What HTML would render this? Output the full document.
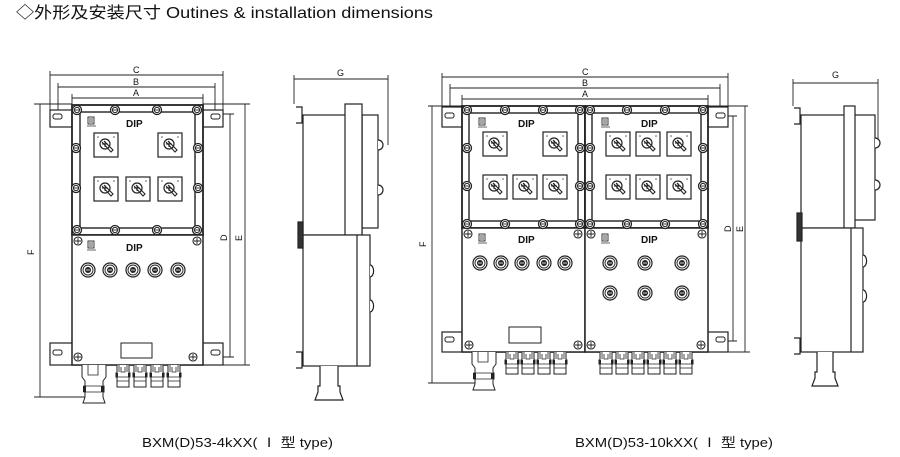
<!DOCTYPE html>
<html><head><meta charset="utf-8"><style>
html,body{margin:0;padding:0;background:#fff;}
svg{display:block;}
text{font-family:"Liberation Sans","Noto Sans CJK SC",sans-serif;fill:#111;}
</style></head><body>
<svg width="900" height="457" viewBox="0 0 900 457" xmlns="http://www.w3.org/2000/svg">
<defs>
 <g id="sw">
  <rect x="0" y="0" width="24" height="24" fill="#fff" stroke="#222" stroke-width="1.2"/>
  <circle cx="4" cy="4" r="0.8" fill="#555"/><circle cx="20" cy="4" r="0.8" fill="#555"/>
  <circle cx="11" cy="11" r="5" fill="none" stroke="#222" stroke-width="1.2"/>
  <path d="M8 9 L17 19 L19 17 L10 8" fill="none" stroke="#222" stroke-width="1.1"/>
  <path d="M8 11 h6 M11 8 v6" stroke="#222" stroke-width="0.9"/>
 </g>
 <g id="bolt">
  <circle cx="0" cy="0" r="4.5" fill="#fff" stroke="#222" stroke-width="1.3"/>
  <circle cx="0" cy="0" r="2.6" fill="none" stroke="#222" stroke-width="1"/>
  <path d="M-2 0h4" stroke="#222" stroke-width="0.9"/>
 </g>
 <g id="bolt2">
  <circle cx="0" cy="0" r="4" fill="#fff" stroke="#222" stroke-width="1.1"/>
  <path d="M-3 0h6M0 -3v6" stroke="#222" stroke-width="0.9"/>
 </g>
 <g id="btn">
  <circle cx="0" cy="0" r="7" fill="#fff" stroke="#222" stroke-width="1.2"/>
  <circle cx="0" cy="0" r="5" fill="none" stroke="#222" stroke-width="0.9"/>
  <circle cx="0" cy="0" r="3" fill="#222"/>
  <path d="M-2 0h4" stroke="#fff" stroke-width="0.8"/>
 </g>
 <g id="gl">
  <path d="M0 0 v8 h-1 v4 h1 v10 h12 v-10 h1 v-4 h-1 v-8" fill="#fff" stroke="#222" stroke-width="1"/>
  <path d="M2 0 v7 M10 0 v7 M4 2 v5 h4 v-5 M0 12 h12 M0 16 h12" fill="none" stroke="#222" stroke-width="0.8"/>
  <rect x="-1" y="8" width="2" height="4" fill="#222"/><rect x="11" y="8" width="2" height="4" fill="#222"/>
 </g>
 <g id="biggl">
  <path d="M0 0 v12 l3 4 v5 h-1 v6 h1 v5 l-2 6 h22 l-2 -6 v-5 h1 v-6 h-1 v-5 l3 -4 v-12" fill="#fff" stroke="#222" stroke-width="1"/>
  <path d="M6 0 v10 h10 v-10 M3 21 h17 M3 27 h17" fill="none" stroke="#222" stroke-width="0.8"/>
  <rect x="1" y="21" width="3" height="6" fill="#222"/><rect x="19" y="21" width="3" height="6" fill="#222"/>
 </g>
 <g id="logo">
  <rect x="0" y="0" width="6" height="7" fill="none" stroke="#222" stroke-width="0.9"/>
  <path d="M2 1v5M4 1v5" stroke="#222" stroke-width="0.8"/>
  <path d="M-1 9h9" stroke="#222" stroke-width="0.7"/>
 </g>
 <g id="ear">
  <rect x="0" y="0" width="9" height="5" rx="2" fill="#fff" stroke="#222" stroke-width="1"/>
 </g>
</defs>

<text x="16" y="18" font-size="16" textLength="417" lengthAdjust="spacingAndGlyphs">◇外形及安装尺寸 Outines &amp; installation dimensions</text>

<g fill="none" stroke="#222" stroke-width="0.9">
 <path d="M50 75H223 M58 87H215 M72 98H203"/>
 <path d="M50 71V110 M223 71V110 M58 83V110 M215 83V110 M72 94V105 M203 94V105"/>
 <path d="M34 104H72 M40 104V397 M34 397H95"/>
 <path d="M210 114H234 M230 114V357 M210 357H234 M203 104H250 M245 104V365 M223 365H250"/>
</g>
<g font-size="9">
 <text x="133" y="73">C</text><text x="133" y="85">B</text><text x="133" y="96">A</text>
 <text x="28" y="255" transform="rotate(-90 31 252)">F</text>
 <text x="221" y="241" transform="rotate(-90 224 238)">D</text>
 <text x="236" y="241" transform="rotate(-90 239 238)">E</text>
</g>
<g stroke="#222" fill="#fff" stroke-width="1.2">
 <rect x="50" y="110" width="173" height="17"/>
 <rect x="50" y="343" width="173" height="22"/>
 <rect x="72" y="105" width="131" height="130" stroke-width="1.8"/>
 <rect x="80" y="112" width="115" height="116" stroke-width="1.4"/>
 <rect x="72" y="235" width="131" height="130" stroke-width="1.5"/>
</g>
<use href="#ear" x="53" y="114"/><use href="#ear" x="211" y="114"/>
<use href="#ear" x="53" y="350"/><use href="#ear" x="211" y="350"/>
<g>
 <use href="#bolt" x="77" y="110"/><use href="#bolt" x="115" y="110"/><use href="#bolt" x="157" y="110"/><use href="#bolt" x="197" y="110"/>
 <use href="#bolt" x="77" y="230"/><use href="#bolt" x="115" y="230"/><use href="#bolt" x="157" y="230"/><use href="#bolt" x="197" y="230"/>
 <use href="#bolt" x="76" y="148"/><use href="#bolt" x="198" y="148"/>
 <use href="#bolt" x="76" y="188"/><use href="#bolt" x="198" y="188"/>
 <use href="#bolt2" x="78" y="241"/><use href="#bolt2" x="197" y="241"/>
 <use href="#bolt2" x="78" y="357"/><use href="#bolt2" x="193" y="357"/>
</g>
<use href="#logo" x="88" y="117"/><use href="#logo" x="88" y="241"/>
<text x="126" y="127" font-size="10" font-weight="bold">DIP</text>
<text x="126" y="251" font-size="10" font-weight="bold">DIP</text>
<use href="#sw" x="94" y="133"/><use href="#sw" x="158" y="133"/>
<use href="#sw" x="94" y="177"/><use href="#sw" x="126" y="177"/><use href="#sw" x="158" y="177"/>
<use href="#btn" x="88" y="270"/><use href="#btn" x="110" y="270"/><use href="#btn" x="133" y="270"/><use href="#btn" x="155" y="270"/><use href="#btn" x="178" y="270"/>
<rect x="121" y="343" width="31" height="15" fill="#fff" stroke="#222" stroke-width="1"/>
<use href="#biggl" x="82" y="365"/>
<use href="#gl" x="117" y="365"/><use href="#gl" x="134" y="365"/><use href="#gl" x="151" y="365"/><use href="#gl" x="168" y="365"/>

<g fill="none" stroke="#222" stroke-width="0.9">
 <path d="M294 79H388 M294 75V104 M388 75V145"/>
</g>
<text x="337" y="76" font-size="9">G</text>
<g stroke="#222" fill="#fff" stroke-width="1.2">
 <rect x="362" y="115" width="16" height="113"/>
 <rect x="303" y="115" width="59" height="120"/>
 <rect x="345" y="104" width="17" height="131"/>
 <rect x="303" y="235" width="67" height="131"/>
 <path d="M357 235V366" fill="none"/>
 <path d="M378 140 a5 5 0 0 1 0 10 M378 185 a5 5 0 0 1 0 10 M370 265 a3 5 0 0 1 0 12 M370 300 a3 5 0 0 1 0 12"/>
 <path d="M296 107 h6 v16 h-6 M296 352 h6 v16 h-6" fill="none"/>
 <rect x="298" y="222" width="5" height="26" fill="#333"/>
 <path d="M320 366 v20 h-2 v6 l-3 8 h28 l-3 -8 v-6 h-2 v-20"/>
</g>

<g fill="none" stroke="#222" stroke-width="0.9">
 <path d="M442 77H728 M450 88H720 M462 99H708"/>
 <path d="M442 73V107 M728 73V107 M450 84V107 M720 84V107 M462 95V106 M708 95V106"/>
 <path d="M428 106H748 M432 106V383 M428 383H475"/>
 <path d="M712 116H737 M733 116V341 M712 341H737 M745 106V352 M728 352H750"/>
</g>
<g font-size="9">
 <text x="582" y="75">C</text><text x="582" y="86">B</text><text x="582" y="97">A</text>
 <text x="420" y="247" transform="rotate(-90 423 244)">F</text>
 <text x="725" y="232" transform="rotate(-90 728 229)">D</text>
 <text x="737" y="232" transform="rotate(-90 740 229)">E</text>
</g>
<g stroke="#222" fill="#fff" stroke-width="1.2">
 <rect x="442" y="107" width="286" height="20"/>
 <rect x="442" y="332" width="286" height="20"/>
 <rect x="462" y="106" width="123" height="122" stroke-width="1.8"/>
 <rect x="469" y="113" width="109" height="108" stroke-width="1.4"/>
 <rect x="585" y="106" width="123" height="122" stroke-width="1.8"/>
 <rect x="592" y="113" width="109" height="108" stroke-width="1.4"/>
 <rect x="462" y="228" width="123" height="124" stroke-width="1.5"/>
 <rect x="585" y="228" width="123" height="124" stroke-width="1.5"/>
</g>
<use href="#ear" x="445" y="113"/><use href="#ear" x="716" y="113"/>
<use href="#ear" x="445" y="337"/><use href="#ear" x="716" y="337"/>
<g>
 <use href="#bolt" x="467" y="110"/><use href="#bolt" x="505" y="110"/><use href="#bolt" x="543" y="110"/><use href="#bolt" x="580" y="110"/>
 <use href="#bolt" x="590" y="110"/><use href="#bolt" x="627" y="110"/><use href="#bolt" x="665" y="110"/><use href="#bolt" x="703" y="110"/>
 <use href="#bolt" x="467" y="224"/><use href="#bolt" x="505" y="224"/><use href="#bolt" x="543" y="224"/><use href="#bolt" x="580" y="224"/>
 <use href="#bolt" x="590" y="224"/><use href="#bolt" x="627" y="224"/><use href="#bolt" x="665" y="224"/><use href="#bolt" x="703" y="224"/>
 <use href="#bolt" x="467" y="148"/><use href="#bolt" x="580" y="148"/><use href="#bolt" x="590" y="148"/><use href="#bolt" x="703" y="148"/>
 <use href="#bolt" x="467" y="186"/><use href="#bolt" x="580" y="186"/><use href="#bolt" x="590" y="186"/><use href="#bolt" x="703" y="186"/>
 <use href="#bolt2" x="468" y="234"/><use href="#bolt2" x="578" y="234"/><use href="#bolt2" x="591" y="234"/><use href="#bolt2" x="702" y="234"/>
 <use href="#bolt2" x="469" y="345"/><use href="#bolt2" x="578" y="345"/><use href="#bolt2" x="591" y="345"/><use href="#bolt2" x="701" y="345"/>
</g>
<use href="#logo" x="479" y="118"/><use href="#logo" x="602" y="118"/>
<use href="#logo" x="479" y="234"/><use href="#logo" x="602" y="234"/>
<g font-size="10" font-weight="bold">
 <text x="518" y="127">DIP</text><text x="641" y="127">DIP</text>
 <text x="518" y="243">DIP</text><text x="641" y="243">DIP</text>
</g>
<use href="#sw" x="483" y="132"/><use href="#sw" x="543" y="132"/>
<use href="#sw" x="483" y="175"/><use href="#sw" x="513" y="175"/><use href="#sw" x="543" y="175"/>
<use href="#sw" x="606" y="132"/><use href="#sw" x="636" y="132"/><use href="#sw" x="667" y="132"/>
<use href="#sw" x="606" y="175"/><use href="#sw" x="636" y="175"/><use href="#sw" x="667" y="175"/>
<use href="#btn" x="480" y="263"/><use href="#btn" x="501" y="263"/><use href="#btn" x="522" y="263"/><use href="#btn" x="544" y="263"/><use href="#btn" x="565" y="263"/>
<use href="#btn" x="610" y="263"/><use href="#btn" x="645" y="263"/><use href="#btn" x="682" y="263"/>
<use href="#btn" x="610" y="293"/><use href="#btn" x="645" y="293"/><use href="#btn" x="682" y="293"/>
<rect x="509" y="327" width="32" height="16" fill="#fff" stroke="#222" stroke-width="1"/>
<use href="#biggl" x="472" y="352"/>
<use href="#gl" x="506" y="352"/><use href="#gl" x="522" y="352"/><use href="#gl" x="538" y="352"/><use href="#gl" x="554" y="352"/>
<use href="#gl" x="600" y="352"/><use href="#gl" x="616" y="352"/><use href="#gl" x="632" y="352"/><use href="#gl" x="648" y="352"/><use href="#gl" x="664" y="352"/><use href="#gl" x="680" y="352"/>

<g fill="none" stroke="#222" stroke-width="0.9">
 <path d="M793 83H878 M793 79V106 M878 79V140"/>
</g>
<text x="832" y="78" font-size="9">G</text>
<g stroke="#222" fill="#fff" stroke-width="1.2">
 <rect x="854" y="115" width="21" height="105"/>
 <rect x="801" y="115" width="53" height="113"/>
 <rect x="844" y="106" width="11" height="122"/>
 <rect x="801" y="228" width="62" height="124"/>
 <path d="M851 228V352" fill="none"/>
 <path d="M875 138 a5 5 0 0 1 0 10 M875 180 a5 5 0 0 1 0 10 M863 255 a3 5 0 0 1 0 12 M863 290 a3 5 0 0 1 0 12"/>
 <path d="M794 108 h6 v16 h-6 M794 338 h6 v16 h-6" fill="none"/>
 <rect x="797" y="213" width="5" height="28" fill="#333"/>
 <path d="M817 352 v20 h-2 v6 l-3 8 h26 l-3 -8 v-6 h-2 v-20"/>
</g>

<text x="142" y="447" font-size="13" textLength="191" lengthAdjust="spacingAndGlyphs">BXM(D)53-4kXX( Ⅰ 型 type)</text>
<text x="575" y="447" font-size="13" textLength="198" lengthAdjust="spacingAndGlyphs">BXM(D)53-10kXX( Ⅰ 型 type)</text>
</svg>
</body></html>
